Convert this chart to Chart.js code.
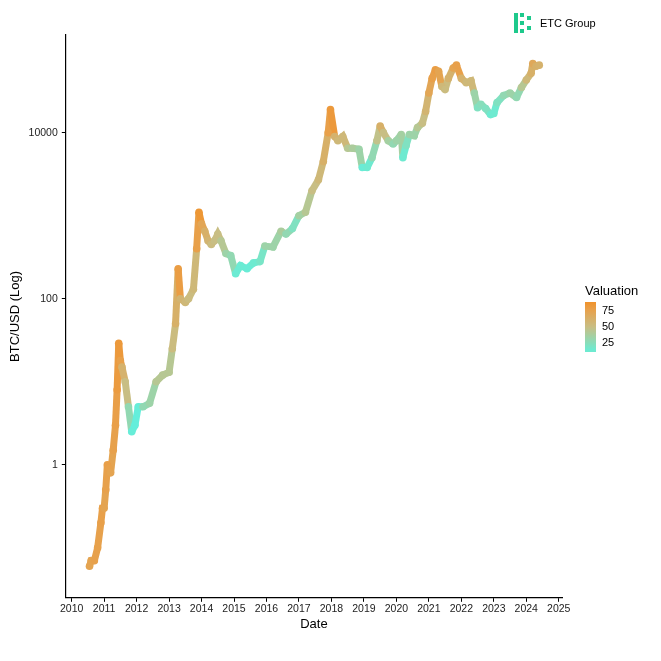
<!DOCTYPE html>
<html><head><meta charset="utf-8">
<script src="https://cdn.jsdelivr.net/npm/chart.js@4/dist/chart.umd.min.js"></script>
<style>
body{margin:0;background:#fff;font-family:"Liberation Sans",Arial,sans-serif}
#wrap{position:relative;width:661px;height:661px}
#legend{position:absolute;left:585px;top:283px;font-size:12px;color:#000}
#logo{position:absolute;left:514px;top:13px;font-size:11px;display:flex;align-items:center;gap:6px}
</style></head><body>
<div id="wrap"><canvas id="c" width="661" height="661"></canvas>
<div id="logo"><svg width="20" height="20"><g fill="#1ec98c"><rect x="0" y="0" width="4" height="20"/><rect x="6" y="0" width="4" height="4"/><rect x="6" y="8" width="4" height="4"/><rect x="6" y="16" width="4" height="4"/><rect x="13" y="3" width="4" height="4"/><rect x="13" y="13" width="4" height="4"/></g></svg><span>ETC Group</span></div>
<div id="legend"><div style="font-size:13px;margin-bottom:4px">Valuation</div>
<div style="display:flex"><div style="width:11px;height:50px;background:linear-gradient(#f0922b,#e8a04a 15%,#c8be84 50%,#6eead0 95%)"></div>
<div style="position:relative;width:40px;font-size:11px"><span style="position:absolute;left:6px;top:2px">75</span><span style="position:absolute;left:6px;top:18px">50</span><span style="position:absolute;left:6px;top:34px">25</span></div></div></div>
</div>
<script>
const dates=[2010.55,2010.6,2010.7,2010.8,2010.9,2010.95,2011.0,2011.05,2011.1,2011.15,2011.2,2011.28,2011.35,2011.4,2011.45,2011.5,2011.55,2011.65,2011.75,2011.85,2011.95,2012.05,2012.2,2012.4,2012.6,2012.8,2013.0,2013.1,2013.2,2013.28,2013.35,2013.5,2013.6,2013.75,2013.85,2013.92,2014.0,2014.1,2014.2,2014.3,2014.4,2014.5,2014.6,2014.75,2014.9,2015.05,2015.2,2015.4,2015.6,2015.8,2015.95,2016.2,2016.45,2016.6,2016.8,2017.0,2017.2,2017.4,2017.6,2017.75,2017.9,2017.97,2018.1,2018.2,2018.35,2018.5,2018.65,2018.85,2018.95,2019.1,2019.25,2019.4,2019.5,2019.6,2019.75,2019.9,2020.0,2020.15,2020.2,2020.3,2020.4,2020.55,2020.65,2020.8,2020.9,2021.0,2021.1,2021.2,2021.3,2021.4,2021.5,2021.6,2021.75,2021.85,2022.0,2022.15,2022.3,2022.4,2022.5,2022.6,2022.75,2022.9,2023.0,2023.1,2023.3,2023.5,2023.7,2023.85,2024.0,2024.15,2024.2,2024.3,2024.4];
const prices=[0.06,0.07,0.07,0.1,0.2,0.3,0.3,0.5,1.0,0.9,0.8,1.5,3,8,29,18,15,10,5,2.5,3,5,5,5.5,10,12,13,25,50,230,100,90,100,130,400,1100,800,650,500,450,500,600,500,350,330,200,250,230,270,280,430,420,650,600,700,1000,1100,2000,2700,4500,10000,19000,9000,8000,9000,6500,6500,6300,3800,3800,5000,8000,12000,10000,8000,7300,8000,9500,5000,7000,9500,9200,11500,13000,18000,30000,45000,57000,55000,36000,33000,45000,60000,65000,45000,40000,42000,30000,20000,22000,19500,16500,17000,23000,28000,30000,26500,35000,43000,52000,68000,63000,65000];
const valuation=[72,72,74,74,75,75,72,74,76,74,72,74,76,80,82,75,60,50,35,18,15,18,35,38,45,45,45,52,62,78,58,55,52,55,75,85,70,62,58,52,50,50,45,38,35,22,22,20,25,28,38,38,42,35,30,40,45,50,55,62,75,82,60,55,55,45,42,38,20,25,35,48,62,50,40,35,38,40,25,30,38,38,45,50,58,70,75,78,72,55,52,60,72,75,60,55,55,38,30,32,30,25,25,30,35,38,35,45,55,62,68,62,60];
const stops=[[10,[95,240,225]],[25,[110,234,208]],[50,[200,190,132]],[75,[232,160,74]],[90,[240,146,43]]];
function col(v){v=Math.max(10,Math.min(90,v));for(let i=0;i<stops.length-1;i++){const[a,ca]=stops[i],[b,cb]=stops[i+1];if(v<=b){const t=(v-a)/(b-a);return `rgb(${ca.map((x,k)=>Math.round(x+(cb[k]-x)*t)).join(',')})`;}}}
const pts=dates.map((d,i)=>({x:d,y:prices[i]}));
const tickFont={size:10.5,family:'Liberation Sans'};
new Chart(document.getElementById('c'),{type:'scatter',data:{datasets:[{data:pts,showLine:true,borderWidth:7,pointRadius:3.8,pointBorderWidth:0,
pointBackgroundColor:valuation.map(col),segment:{borderColor:c=>col(valuation[c.p0DataIndex])}}]},
options:{responsive:false,animation:false,plugins:{legend:{display:false},tooltip:{enabled:false}},
layout:{padding:{left:7,right:99,top:35,bottom:29}},
scales:{x:{type:'linear',min:2009.82,max:2025.1,grid:{display:true,drawOnChartArea:false,drawTicks:true,tickLength:4,tickColor:'#000'},border:{color:'#000',width:1.2},
afterBuildTicks:a=>{a.ticks=[];for(let y=2010;y<=2025;y++)a.ticks.push({value:y});},
ticks:{color:'#222',font:tickFont,callback:v=>String(v),maxRotation:0,autoSkip:false,padding:1},
title:{display:true,text:'Date',color:'#000',font:{size:13,family:'Liberation Sans'},padding:0}},
y:{type:'logarithmic',min:0.025,max:150000,grid:{display:true,drawOnChartArea:false,tickLength:4,tickColor:'#000'},border:{color:'#000',width:1.2},
afterBuildTicks:a=>{a.ticks=[{value:1},{value:100},{value:10000}];},
ticks:{color:'#222',font:tickFont,callback:v=>String(v),padding:4},
title:{display:true,text:'BTC/USD (Log)',color:'#000',font:{size:13,family:'Liberation Sans'},padding:1}}}}});
</script></body></html>
